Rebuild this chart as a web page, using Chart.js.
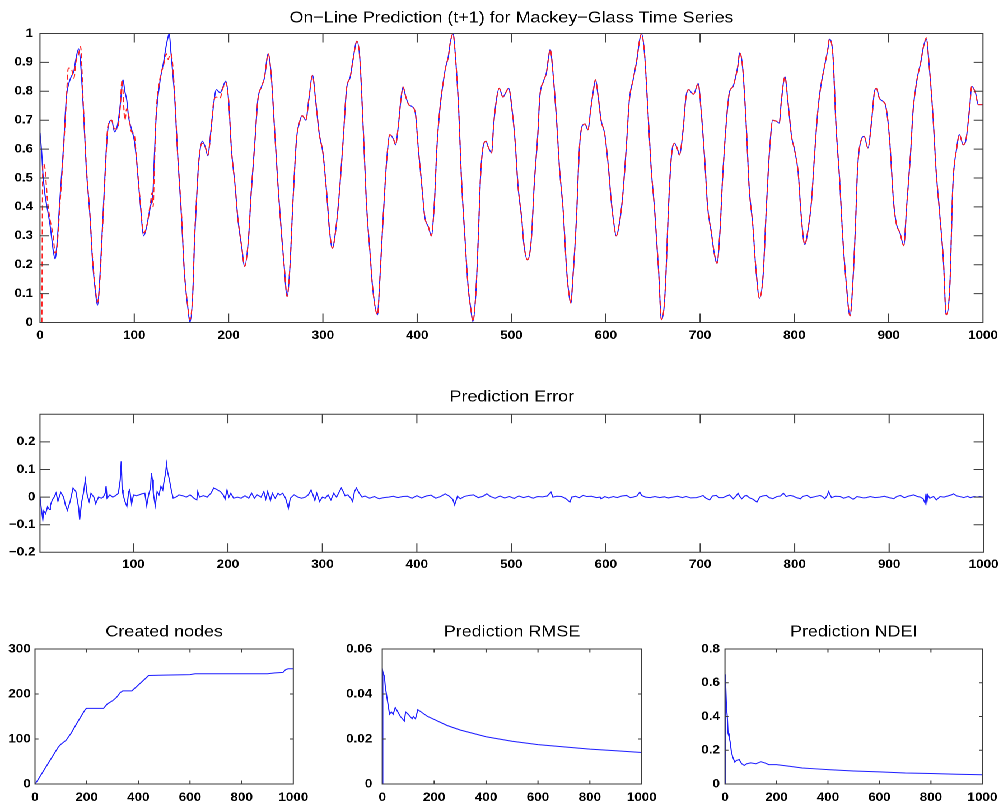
<!DOCTYPE html>
<html>
<head>
<meta charset="utf-8">
<title>Mackey-Glass on-line prediction</title>
<script src="https://cdn.jsdelivr.net/npm/chart.js@4.4.1/dist/chart.umd.min.js"></script>
<style>
  html, body { margin: 0; padding: 0; background: #fff; overflow: hidden; }
  /* the figure is laid out a bit narrower and stretched sideways, like the exported plot */
  #figure { position: absolute; left: 0; top: 0; width: 897px; height: 807px; transform: scaleX(1.12); transform-origin: 0 0; }
  .panel { position: absolute; }
</style>
</head>
<body>
<div id="figure">
  <div class="panel" style="left:0;top:0;width:897px;height:350px"><canvas id="seriesChart"></canvas></div>
  <div class="panel" style="left:0;top:370px;width:897px;height:210px"><canvas id="errorChart"></canvas></div>
  <div class="panel" style="left:0;top:600px;width:300px;height:207px"><canvas id="nodesChart"></canvas></div>
  <div class="panel" style="left:300px;top:600px;width:300px;height:207px"><canvas id="rmseChart"></canvas></div>
  <div class="panel" style="left:600px;top:600px;width:297px;height:207px"><canvas id="ndeiChart"></canvas></div>
</div>
<script>
// time steps at which the series were read
const steps = [
  0, 2, 3, 5, 8, 11, 14, 16, 18, 21, 25, 28, 30, 33, 36, 38, 41, 43, 46, 49, 53, 56, 59, 61, 63, 67, 70, 72, 76, 79,
  82, 85, 87, 88, 90, 92, 94, 97, 100, 102, 106, 110, 113, 117, 119, 120, 121, 123, 127, 131, 134, 136, 137, 139, 143, 146, 150, 153, 157, 159,
  162, 164, 167, 169, 172, 175, 178, 181, 184, 187, 191, 193, 197, 200,
  203, 207, 210, 214, 217, 221, 224, 228, 231, 235, 238, 242, 245, 249, 252, 256, 259, 262, 265, 268, 272, 275, 278, 282, 285, 289, 292, 296, 300,
  304, 307, 310, 314, 318, 322, 325, 329, 332, 336, 339, 343, 346, 350, 353, 358, 360, 364, 368, 371, 375, 377, 380, 383, 385, 388, 391, 394, 398,
  401, 405, 408, 412, 415, 418, 421, 424, 428, 430, 433, 435, 438, 440, 444, 447, 451, 454, 457, 459, 462, 465, 467, 470, 473, 475, 479, 481, 484, 487, 491, 493, 497,
  501, 504, 507, 511, 513, 517, 521, 524, 528, 530, 534, 537, 539, 541, 544, 548, 551, 555, 558, 560, 563, 565, 569, 572, 575, 578, 581, 584, 587, 589, 592, 595, 599,
  603, 606, 609, 611, 615, 618, 622, 625, 629, 633, 636, 638, 641, 645, 648, 652, 656, 659, 662, 664, 666, 669, 671, 673, 676, 678, 682, 685, 688, 691, 693, 698,
  701, 705, 708, 712, 715, 718, 721, 724, 728, 731, 735, 737, 740, 742, 745, 749, 752, 756, 759, 763, 767, 770, 774, 777, 781, 784, 786, 790, 793, 797,
  800, 804, 807, 811, 815, 818, 821, 825, 828, 832, 836, 837, 841, 844, 848, 851, 855, 859, 862, 865, 867, 871, 874, 878, 882, 885, 887, 890, 894, 897,
  901, 905, 908, 912, 916, 919, 923, 926, 930, 934, 937, 940, 943, 947, 950, 954, 958, 961, 965, 968, 972, 975, 979, 982, 986, 988, 992, 995, 1000
];

// Mackey-Glass target values
const actual = [
  0.656, 0.58, 0.52, 0.45, 0.39, 0.33, 0.25, 0.22, 0.27, 0.42, 0.61, 0.78, 0.82, 0.85, 0.87, 0.91, 0.947, 0.90, 0.74, 0.54, 0.37, 0.2, 0.10, 0.06, 0.13, 0.38, 0.58, 0.67, 0.70, 0.66,
  0.68, 0.75, 0.82, 0.84, 0.80, 0.77, 0.71, 0.67, 0.63, 0.575, 0.425, 0.30, 0.33, 0.40, 0.43, 0.46, 0.55, 0.70, 0.83, 0.90, 0.96, 0.99, 1.0, 0.93, 0.77, 0.58, 0.37, 0.18, 0.045, 0.0,
  0.10, 0.29, 0.49, 0.575, 0.627, 0.61, 0.577, 0.656, 0.75, 0.806, 0.795, 0.806, 0.835, 0.77,
  0.60, 0.47, 0.355, 0.26, 0.194, 0.286, 0.45, 0.63, 0.77, 0.817, 0.846, 0.93, 0.864, 0.656, 0.494, 0.31, 0.194, 0.09, 0.19, 0.40, 0.633, 0.69, 0.716, 0.70, 0.77, 0.855, 0.78, 0.656, 0.587,
  0.45, 0.32, 0.257, 0.33, 0.47, 0.656, 0.806, 0.85, 0.91, 0.973, 0.92, 0.656, 0.425, 0.24, 0.113, 0.027, 0.125, 0.367, 0.575, 0.65, 0.633, 0.615, 0.68, 0.78, 0.815, 0.78, 0.754, 0.748, 0.725,
  0.61, 0.47, 0.367, 0.33, 0.30, 0.40, 0.61, 0.737, 0.84, 0.88, 0.92, 0.967, 0.999, 0.945, 0.737, 0.494, 0.275, 0.125, 0.044, 0.003, 0.09, 0.31, 0.494, 0.61, 0.627, 0.61, 0.587, 0.68, 0.77, 0.81, 0.78, 0.79, 0.81,
  0.725, 0.62, 0.47, 0.355, 0.275, 0.217, 0.286, 0.47, 0.656, 0.78, 0.835, 0.864, 0.91, 0.945, 0.864, 0.69, 0.53, 0.38, 0.205, 0.125, 0.067, 0.148, 0.367, 0.60, 0.68, 0.687, 0.667, 0.737, 0.806, 0.84, 0.78, 0.70, 0.65,
  0.53, 0.413, 0.333, 0.30, 0.355, 0.44, 0.62, 0.77, 0.84, 0.91, 0.98, 0.999, 0.933, 0.714, 0.54, 0.38, 0.18, 0.01, 0.06, 0.18, 0.36, 0.55, 0.61, 0.62, 0.60, 0.58, 0.667, 0.78, 0.806, 0.795, 0.79, 0.827,
  0.737, 0.56, 0.40, 0.31, 0.24, 0.205, 0.31, 0.506, 0.70, 0.795, 0.817, 0.84, 0.887, 0.933, 0.887, 0.68, 0.47, 0.333, 0.194, 0.084, 0.17, 0.38, 0.61, 0.70, 0.696, 0.69, 0.76, 0.85, 0.77, 0.644,
  0.60, 0.52, 0.38, 0.27, 0.333, 0.413, 0.56, 0.737, 0.817, 0.887, 0.956, 0.98, 0.92, 0.69, 0.494, 0.31, 0.136, 0.023, 0.136, 0.355, 0.53, 0.633, 0.644, 0.604, 0.70, 0.80, 0.81, 0.777, 0.765, 0.748,
  0.633, 0.425, 0.344, 0.31, 0.266, 0.40, 0.575, 0.737, 0.84, 0.90, 0.956, 0.98, 0.887, 0.714, 0.54, 0.38, 0.217, 0.027, 0.136, 0.47, 0.60, 0.65, 0.615, 0.633, 0.748, 0.817, 0.795, 0.754, 0.754
];

// one-step-ahead model output (starts at t = 2)
const predicted = [
  null, 0, 0.55, 0.54, 0.42, 0.35, 0.30, 0.24, 0.26, 0.40, 0.60, 0.77, 0.88, 0.88, 0.845, 0.90, 0.93, 0.955, 0.75, 0.55, 0.37, 0.21, 0.11, 0.07, 0.12, 0.37, 0.57, 0.68, 0.70, 0.67,
  0.67, 0.74, 0.84, 0.80, 0.70, 0.74, 0.72, 0.66, 0.65, 0.58, 0.43, 0.31, 0.33, 0.41, 0.45, 0.40, 0.50, 0.71, 0.84, 0.89, 0.93, 0.91, 0.92, 0.93, 0.78, 0.58, 0.38, 0.18, 0.05, 0.01,
  0.10, 0.30, 0.48, 0.58, 0.62, 0.61, 0.58, 0.65, 0.76, 0.78, 0.775, 0.80, 0.83, 0.77,
  0.60, 0.47, 0.355, 0.26, 0.194, 0.286, 0.45, 0.63, 0.77, 0.817, 0.846, 0.93, 0.864, 0.656, 0.494, 0.31, 0.194, 0.09, 0.19, 0.40, 0.633, 0.69, 0.716, 0.70, 0.77, 0.855, 0.78, 0.656, 0.587,
  0.45, 0.32, 0.257, 0.33, 0.47, 0.656, 0.806, 0.85, 0.91, 0.973, 0.92, 0.656, 0.425, 0.24, 0.113, 0.027, 0.125, 0.367, 0.575, 0.65, 0.633, 0.615, 0.68, 0.78, 0.815, 0.78, 0.754, 0.748, 0.725,
  0.61, 0.47, 0.367, 0.33, 0.30, 0.40, 0.61, 0.737, 0.84, 0.88, 0.92, 0.967, 0.999, 0.945, 0.737, 0.494, 0.275, 0.125, 0.044, 0.003, 0.09, 0.31, 0.494, 0.61, 0.627, 0.61, 0.587, 0.68, 0.77, 0.81, 0.78, 0.79, 0.81,
  0.725, 0.62, 0.47, 0.355, 0.275, 0.217, 0.286, 0.47, 0.656, 0.78, 0.835, 0.864, 0.91, 0.945, 0.864, 0.69, 0.53, 0.38, 0.205, 0.125, 0.067, 0.148, 0.367, 0.60, 0.68, 0.687, 0.667, 0.737, 0.806, 0.84, 0.78, 0.70, 0.65,
  0.53, 0.413, 0.333, 0.30, 0.355, 0.44, 0.62, 0.77, 0.84, 0.91, 0.98, 0.999, 0.933, 0.714, 0.54, 0.38, 0.18, 0.01, 0.06, 0.18, 0.36, 0.55, 0.61, 0.62, 0.60, 0.58, 0.667, 0.78, 0.806, 0.795, 0.79, 0.827,
  0.737, 0.56, 0.40, 0.31, 0.24, 0.205, 0.31, 0.506, 0.70, 0.795, 0.817, 0.84, 0.887, 0.933, 0.887, 0.68, 0.47, 0.333, 0.194, 0.084, 0.17, 0.38, 0.61, 0.70, 0.696, 0.69, 0.76, 0.85, 0.77, 0.644,
  0.60, 0.52, 0.38, 0.27, 0.333, 0.413, 0.56, 0.737, 0.817, 0.887, 0.956, 0.98, 0.92, 0.69, 0.494, 0.31, 0.136, 0.023, 0.136, 0.355, 0.53, 0.633, 0.644, 0.604, 0.70, 0.80, 0.81, 0.777, 0.765, 0.748,
  0.633, 0.425, 0.344, 0.31, 0.266, 0.40, 0.575, 0.737, 0.84, 0.90, 0.956, 0.985, 0.887, 0.714, 0.54, 0.38, 0.217, 0.027, 0.136, 0.47, 0.60, 0.65, 0.615, 0.633, 0.748, 0.817, 0.795, 0.754, 0.754
];

// prediction error
const errSteps = [
  1, 2, 4, 5, 7, 9, 11, 12, 14, 16, 18, 20, 23, 26, 28, 30, 33, 36, 39, 42, 43, 45, 47, 49, 51, 53, 55, 58, 60, 63, 66, 68, 70, 71, 72, 75, 78, 81, 84, 86, 87, 88, 89, 91, 93, 95, 96, 98,
  100, 103, 106, 109, 112, 114, 116, 118, 119, 120, 121, 123, 125, 127, 129, 131, 132, 134, 135, 136, 138, 140, 142, 145, 148, 152, 156, 160, 164, 167, 168, 170, 174, 178, 182, 185, 189, 192, 195, 197, 199,
  201, 203, 206, 210, 214, 218, 222, 225, 228, 231, 235, 238, 240, 242, 245, 247, 250, 253, 255, 258, 261, 263, 264, 266, 270, 274, 278, 282, 285, 288, 290, 292, 294, 297,
  300, 303, 306, 309, 312, 315, 318, 320, 322, 324, 327, 330, 332, 334, 336, 339, 342, 345, 350, 355, 360, 365, 370, 375, 380, 385, 390, 395,
  400, 405, 410, 415, 420, 425, 430, 434, 438, 440, 443, 446, 450, 455, 460, 465, 470, 474, 478, 483, 488, 493, 498,
  503, 508, 513, 518, 523, 528, 533, 538, 542, 544, 548, 553, 557, 560, 562, 564, 568, 572, 576, 580, 585, 590, 594, 595, 599,
  603, 608, 612, 617, 622, 626, 629, 633, 636, 638, 642, 647, 652, 657, 662, 666, 671, 676, 681, 685, 690, 696,
  700, 703, 706, 710, 713, 717, 720, 724, 728, 731, 735, 738, 740, 742, 744, 747, 749, 752, 756, 760, 763, 766, 770, 773, 777, 781, 785, 788, 791, 795, 798,
  802, 806, 809, 813, 817, 822, 827, 830, 832, 834, 836, 837, 839, 843, 848, 852, 857, 862, 866, 869, 873, 876, 880, 885, 890, 895,
  900, 905, 908, 912, 916, 920, 926, 930, 933, 936, 938, 939, 940, 941, 943, 947, 950, 954, 958, 962, 966, 968, 972, 975, 979, 983, 986, 990, 993, 996, 1000
];
const errValues = [
  0, -0.03, -0.082, -0.05, -0.06, -0.035, -0.045, -0.03, -0.01, 0, 0.015, -0.015, 0.017, 0, -0.03, -0.048, -0.015, 0.033, 0.02, -0.04, -0.082, -0.02, 0.014, 0.063, 0.008, -0.016, 0.014, 0, -0.024, 0, -0.004, 0, 0.014, 0.04, -0.004, 0.008, 0, 0.005, 0.014, 0.063, 0.13, 0.026, 0.008, -0.016, -0.034, 0.02, 0.026, -0.024,
  0.008, 0.005, 0.008, 0.012, 0.014, -0.031, 0.008, 0.033, 0.087, 0.063, 0.014, -0.031, 0.02, 0.008, 0.039, 0.026, 0.05, 0.087, 0.12, 0.093, 0.063, 0.026, -0.004, 0, 0.008, 0.005, 0, 0.008, -0.004, -0.01, 0.02, 0, 0.005, 0, 0.014, 0.033, 0.026, 0.02, 0.008, -0.007, 0.026,
  0, 0.014, -0.004, 0, -0.004, 0.005, -0.004, 0.014, -0.004, 0.008, 0, 0.02, -0.007, 0.02, -0.012, 0.014, -0.004, 0.014, 0.008, 0.014, -0.004, -0.028, -0.04, -0.004, 0.008, 0, -0.004, 0, 0.008, 0.026, 0.008, -0.012, 0.014, -0.016,
  0, -0.004, 0.008, -0.01, 0.014, 0, 0.02, 0.033, 0.02, 0.005, 0.008, -0.004, -0.016, 0.02, 0.033, 0.014, 0, 0.004, -0.004, 0.002, -0.006, -0.002, 0, 0.003, -0.002, 0.002, 0.003, -0.004,
  0.005, -0.003, 0.004, 0.007, -0.004, 0.002, 0.012, 0.004, -0.008, -0.028, 0.003, -0.006, 0.002, 0.006, 0.008, -0.002, 0.003, 0.012, 0.002, -0.004, 0.004, -0.003, 0.002,
  -0.005, 0.004, -0.002, 0.003, -0.004, 0.002, 0.001, 0.004, 0.018, 0, 0.003, 0.002, -0.004, -0.012, -0.018, 0, 0.003, -0.002, 0.006, 0.002, 0.003, -0.002, 0, -0.006, 0.002,
  -0.003, 0.002, -0.002, 0.004, 0.006, -0.002, 0, 0.004, 0.018, 0.006, 0, -0.002, 0.002, -0.002, 0.001, -0.003, 0, 0.003, -0.002, 0.002, -0.003, -0.002,
  0.002, 0.006, -0.004, -0.01, 0.004, 0.006, -0.002, -0.002, 0.004, 0.008, -0.006, 0.004, 0.014, 0.002, -0.006, 0.004, 0.006, -0.002, -0.008, -0.018, 0, 0.004, 0.006, -0.002, -0.006, 0.002, 0.004, 0.014, 0.002, 0.006, 0.004,
  -0.002, -0.006, 0.003, 0.006, -0.002, 0.002, 0.006, 0, -0.006, 0.004, 0.02, 0.012, -0.002, 0.003, 0.002, -0.004, 0.002, -0.008, 0.002, 0, -0.003, -0.002, 0.002, -0.002, 0, 0.003,
  -0.002, -0.006, 0.002, 0.006, -0.002, 0.003, 0.008, 0.002, 0, -0.006, -0.022, 0.012, -0.018, 0.008, -0.004, 0.002, -0.01, 0.002, 0, 0.004, 0.008, 0.012, 0.004, 0.002, -0.002, 0.003, -0.002, 0.002, 0, 0.002, 0
];

// created nodes
const nodeSteps = [0, 10, 50, 90, 100, 120, 140, 160, 180, 195, 200, 265, 280, 300, 315, 330, 340, 375, 400, 425, 440, 500, 600, 620, 900, 930, 960, 970, 980, 1000];
const nodeCounts = [0, 8, 45, 82, 88, 97, 113, 133, 152, 166, 168, 168, 178, 185, 192, 203, 207, 207, 220, 233, 241, 242, 243, 245, 245, 247, 248, 254, 256, 256];

// running RMSE
const rmseSteps = [0, 2, 4, 8, 12, 20, 28, 35, 42, 50, 55, 70, 85, 90, 100, 115, 120, 128, 137, 150, 175, 200, 250, 300, 400, 500, 600, 700, 800, 900, 1000];
const rmseValues = [0, 0.050, 0.049, 0.048, 0.043, 0.037, 0.031, 0.032, 0.031, 0.034, 0.033, 0.030, 0.028, 0.032, 0.031, 0.029, 0.030, 0.029, 0.033, 0.032, 0.030, 0.0287, 0.026, 0.024, 0.021, 0.019, 0.0175, 0.0165, 0.0155, 0.0148, 0.014];

// running NDEI
const ndeiSteps = [0, 1, 3, 6, 9, 12, 16, 20, 25, 30, 38, 45, 55, 65, 75, 85, 100, 120, 140, 155, 170, 200, 250, 300, 350, 400, 500, 600, 700, 800, 900, 1000];
const ndeiValues = [0, 0.65, 0.62, 0.45, 0.40, 0.30, 0.28, 0.25, 0.19, 0.16, 0.13, 0.14, 0.145, 0.12, 0.11, 0.12, 0.125, 0.12, 0.132, 0.125, 0.115, 0.115, 0.105, 0.095, 0.09, 0.085, 0.077, 0.072, 0.065, 0.062, 0.058, 0.055];

// tick positions
const seriesXTicks = [0, 100, 200, 300, 400, 500, 600, 700, 800, 900, 1000];
const seriesYTicks = [0, 0.1, 0.2, 0.3, 0.4, 0.5, 0.6, 0.7, 0.8, 0.9, 1];
const errorXTicks = [100, 200, 300, 400, 500, 600, 700, 800, 900, 1000];
const errorYTicks = [-0.2, -0.1, 0, 0.1, 0.2];
const smallXTicks = [0, 200, 400, 600, 800, 1000];
const nodeYTicks = [0, 100, 200, 300];
const rmseYTicks = [0, 0.02, 0.04, 0.06];
const ndeiYTicks = [0, 0.2, 0.4, 0.6, 0.8];

const BLUE = '#1f1fff';
const RED = '#ff1f1f';
const AXIS = '#3c3c3c';

Chart.defaults.font.family = "'Liberation Sans', Arial, Helvetica, sans-serif";
Chart.defaults.color = '#000';

const pts = (xs, ys) => xs.map((x, i) => ({ x, y: ys[i] }));
const fmt = v => String(+Number(v).toFixed(3)).replace('-', '\u2212');

// box around the plot area with inward tick marks on all four sides
const axesBox = {
  id: 'axesBox',
  afterDatasetsDraw(chart, args, opts) {
    const { ctx, chartArea: a, scales: { x, y } } = chart;
    const [xl, yl] = opts.len;
    ctx.save();
    ctx.strokeStyle = AXIS;
    ctx.lineWidth = 1;
    ctx.beginPath();
    x.ticks.forEach(t => {
      const px = x.getPixelForValue(t.value);
      ctx.moveTo(px, a.bottom); ctx.lineTo(px, a.bottom - xl);
      ctx.moveTo(px, a.top); ctx.lineTo(px, a.top + xl);
    });
    y.ticks.forEach(t => {
      const py = y.getPixelForValue(t.value);
      ctx.moveTo(a.left, py); ctx.lineTo(a.left + yl, py);
      ctx.moveTo(a.right, py); ctx.lineTo(a.right - yl, py);
    });
    ctx.rect(a.left, a.top, a.right - a.left, a.bottom - a.top);
    ctx.stroke();
    ctx.restore();
  }
};

function panel(id, o) {
  const tickFont = { size: 12, weight: 'bold' };
  return new Chart(document.getElementById(id), {
    type: 'line',
    data: { datasets: o.datasets },
    options: {
      responsive: true,
      maintainAspectRatio: false,
      animation: false,
      devicePixelRatio: 2,
      layout: { padding: { left: 0, right: o.padRight, top: 0, bottom: 0 } },
      elements: { point: { radius: 0 }, line: { borderWidth: 1 } },
      plugins: {
        legend: { display: false },
        tooltip: { enabled: false },
        title: {
          display: true, text: o.title, fullSize: false, color: '#000',
          font: { size: 16, weight: 'normal' }, padding: o.titlePad
        },
        axesBox: { len: o.tickLen }
      },
      scales: {
        x: {
          type: 'linear', min: o.xRange[0], max: o.xRange[1],
          grid: { display: false, drawTicks: false }, border: { display: false },
          afterBuildTicks: ax => { ax.ticks = o.xTicks.map(value => ({ value })); },
          afterFit: ax => { ax.height = o.xHeight; },
          ticks: { autoSkip: false, maxRotation: 0, padding: o.xPad, color: '#000', font: tickFont, callback: fmt }
        },
        y: {
          type: 'linear', min: o.yRange[0], max: o.yRange[1],
          grid: { display: false, drawTicks: false }, border: { display: false },
          afterBuildTicks: ax => { ax.ticks = o.yTicks.map(value => ({ value })); },
          afterFit: ax => { ax.width = o.yWidth; },
          ticks: { autoSkip: false, padding: o.yPad, color: '#000', font: tickFont, callback: fmt }
        }
      }
    },
    plugins: [axesBox]
  });
}

panel('seriesChart', {
  title: 'On\u2212Line Prediction (t+1) for Mackey\u2212Glass Time Series',
  titlePad: { top: 8.4, bottom: 5.9 },
  datasets: [
    { label: 'Prediction', data: pts(steps, predicted), borderColor: RED, borderDash: [5, 3],
      cubicInterpolationMode: 'monotone', order: 1 },
    { label: 'Mackey-Glass', data: pts(steps, actual), borderColor: BLUE,
      cubicInterpolationMode: 'monotone', order: 2 }
  ],
  xRange: [0, 1000], yRange: [0, 1], xTicks: seriesXTicks, yTicks: seriesYTicks,
  yWidth: 35.7, padRight: 18.4, xHeight: 27.5, xPad: 6, yPad: 6.2, tickLen: [9, 8.3]
});

panel('errorChart', {
  title: 'Prediction Error',
  titlePad: { top: 17.4, bottom: 7.7 },
  datasets: [
    { label: 'Error', data: pts(errSteps, errValues), borderColor: BLUE }
  ],
  xRange: [1, 1000], yRange: [-0.2, 0.3], xTicks: errorXTicks, yTicks: errorYTicks,
  yWidth: 35.7, padRight: 18.8, xHeight: 27.7, xPad: 5.2, yPad: 4.2, tickLen: [9, 8.9]
});

panel('nodesChart', {
  title: 'Created nodes',
  titlePad: { top: 22.4, bottom: 7.4 },
  datasets: [{ label: 'Nodes', data: pts(nodeSteps, nodeCounts), borderColor: BLUE }],
  xRange: [0, 1000], yRange: [0, 300], xTicks: smallXTicks, yTicks: nodeYTicks,
  yWidth: 31.25, padRight: 38.1, xHeight: 23, xPad: 6.5, yPad: 3.8, tickLen: [3.5, 3.1]
});

panel('rmseChart', {
  title: 'Prediction RMSE',
  titlePad: { top: 22.4, bottom: 7.4 },
  datasets: [{ label: 'RMSE', data: pts(rmseSteps, rmseValues), borderColor: BLUE }],
  xRange: [0, 1000], yRange: [0, 0.06], xTicks: smallXTicks, yTicks: rmseYTicks,
  yWidth: 41.3, padRight: 27, xHeight: 23, xPad: 6.5, yPad: 8.9, tickLen: [3.5, 3.1]
});

panel('ndeiChart', {
  title: 'Prediction NDEI',
  titlePad: { top: 22.4, bottom: 7.4 },
  datasets: [{ label: 'NDEI', data: pts(ndeiSteps, ndeiValues), borderColor: BLUE }],
  xRange: [0, 1000], yRange: [0, 0.8], xTicks: smallXTicks, yTicks: ndeiYTicks,
  yWidth: 47.3, padRight: 17.5, xHeight: 23, xPad: 6.5, yPad: 4.5, tickLen: [3.5, 3.1]
});
</script>
</body>
</html>
